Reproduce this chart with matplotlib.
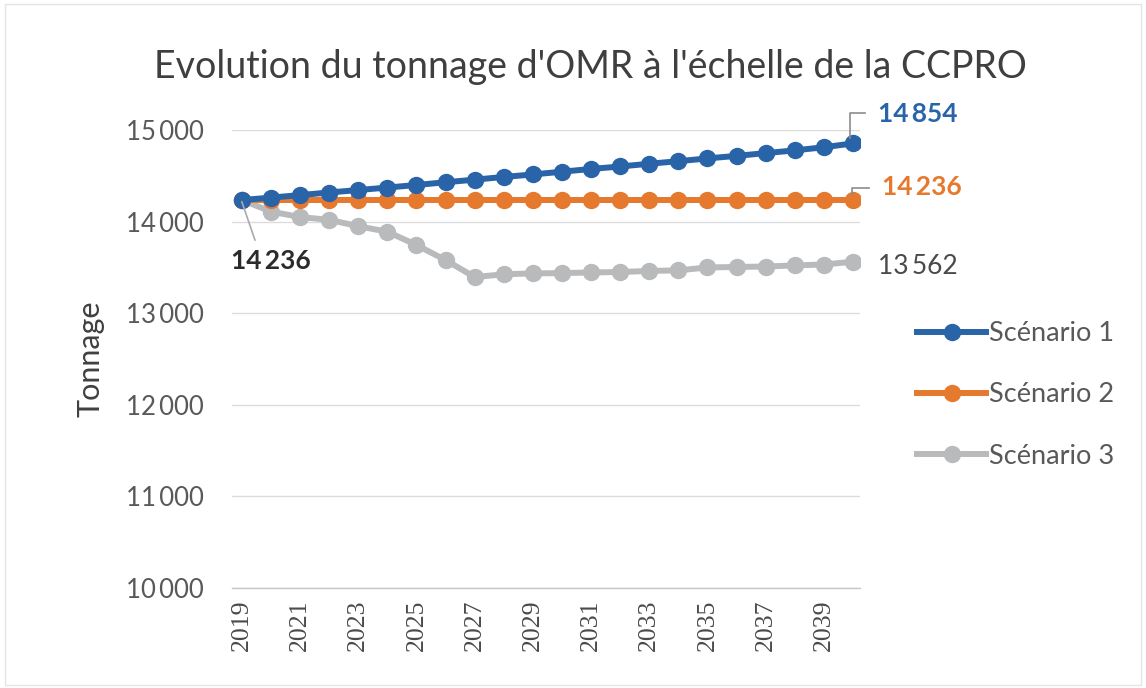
import matplotlib
matplotlib.use("Agg")
import matplotlib.pyplot as plt
from matplotlib.lines import Line2D
from matplotlib.patches import Rectangle

years = list(range(2019, 2041))
scenario1 = [14236, 14262, 14290, 14318, 14345, 14372, 14400, 14430, 14458, 14488,
             14515, 14545, 14575, 14602, 14632, 14660, 14690, 14718, 14748, 14778,
             14812, 14854]
scenario2 = [14236] * 22
scenario3 = [14236, 14110, 14050, 14020, 13950, 13890, 13745, 13580, 13395, 13425,
             13435, 13438, 13445, 13450, 13462, 13468, 13500, 13505, 13510, 13522,
             13532, 13562]
series_names = ["Scénario 1", "Scénario 2", "Scénario 3"]
colors = ["#2A64A8", "#E5792E", "#B8BABC"]
yticks = [10000, 11000, 12000, 13000, 14000, 15000]
ytick_labels = ["10\u2009000", "11\u2009000", "12\u2009000", "13\u2009000", "14\u2009000", "15\u2009000"]
xtick_years = list(range(2019, 2040, 2))
title = "Evolution du tonnage d'OMR à l'échelle de la CCPRO"

SANS = ["Lato", "DejaVu Sans"]
plt.rcParams["font.family"] = SANS

fig = plt.figure(figsize=(11.46, 6.88), dpi=100)
fig.patch.set_facecolor("white")
fig.patches.append(Rectangle((0.004, 0.004), 0.992, 0.99, transform=fig.transFigure,
                             fill=False, edgecolor="#E4E4E4", linewidth=1.0))
ax = fig.add_axes([0.2024, 0.1453, 0.548, 0.6657])

data = [scenario1, scenario2, scenario3]
for vals, c, name in zip(data[::-1], colors[::-1], series_names[::-1]):
    ax.plot(years, vals, color=c, linewidth=4.3, marker="o", markersize=11.5,
            label=name, zorder=3, solid_capstyle="round")

ax.set_ylim(10000, 15000)
ax.set_xlim(2018.66, 2040.24)
ax.set_yticks(yticks)
ax.set_yticklabels(ytick_labels, fontsize=18.5, color="#595959")
ax.set_xticks(xtick_years)
ax.set_xticklabels([str(y) for y in xtick_years], rotation=90, fontsize=18.5,
                   family=["Liberation Serif"], color="#4A4A4A")
ax.tick_params(axis="y", length=0, pad=20)
ax.tick_params(axis="x", length=0, pad=8)
ax.grid(axis="y", color="#DCDCDC", linewidth=1.0, zorder=0)
for s in ["top", "right", "left"]:
    ax.spines[s].set_visible(False)
ax.spines["bottom"].set_color("#C8C8C8")
ax.spines["bottom"].set_linewidth(1.0)

ax.set_ylabel("Tonnage", fontsize=22, color="#404040", labelpad=16)
fig.text(0.515, 0.903, title, ha="center", va="center", fontsize=27, color="#3F3F3F")

# data labels
x_end = years[-1]
ax.annotate(f"{scenario1[-1]:,}".replace(",", "\u2009"), xy=(x_end, scenario1[-1]),
            xytext=(878, 574), textcoords="figure pixels", fontsize=19, fontweight="bold",
            color=colors[0], va="center", ha="left", annotation_clip=False)
ax.plot([x_end - 0.1, x_end - 0.1, x_end + 0.4], [scenario1[-1] + 60, 15190, 15190],
        color="#8C8C8C", lw=1.2, clip_on=False, zorder=4)
ax.annotate(f"{scenario2[-1]:,}".replace(",", "\u2009"), xy=(x_end, scenario2[-1]),
            xytext=(882, 501), textcoords="figure pixels", fontsize=19, fontweight="bold",
            color=colors[1], va="center", ha="left", annotation_clip=False)
ax.plot([x_end - 0.05, x_end - 0.05, x_end + 0.55], [scenario2[-1] + 60, 14370, 14370],
        color="#8C8C8C", lw=1.2, clip_on=False, zorder=4)
ax.annotate(f"{scenario3[-1]:,}".replace(",", "\u2009"), xy=(x_end, scenario3[-1]),
            xytext=(878, 421), textcoords="figure pixels", fontsize=19,
            color="#4A4A4A", va="center", ha="left", annotation_clip=False)
ax.annotate(f"{scenario3[0]:,}".replace(",", "\u2009"), xy=(years[0], scenario3[0]),
            xytext=(231, 427), textcoords="figure pixels", fontsize=19, fontweight="bold",
            color="#2B2B2B", va="center", ha="left", annotation_clip=False)
ax.plot([years[0], years[0] + 0.45], [scenario3[0] - 20, 13800],
        color="#AAAAAA", lw=1.2, clip_on=False, zorder=4)

handles = [Line2D([0], [0], color=c, lw=4.3, marker="o", markersize=11.5) for c in colors]
leg = fig.legend(handles, series_names, loc="center left", bbox_to_anchor=(0.784, 0.426),
                 frameon=False, fontsize=19.5, handlelength=2.55, handletextpad=0.08,
                 labelspacing=1.34, labelcolor="#595959", borderpad=0.2)

fig.savefig("out.png", dpi=100, facecolor="white")
